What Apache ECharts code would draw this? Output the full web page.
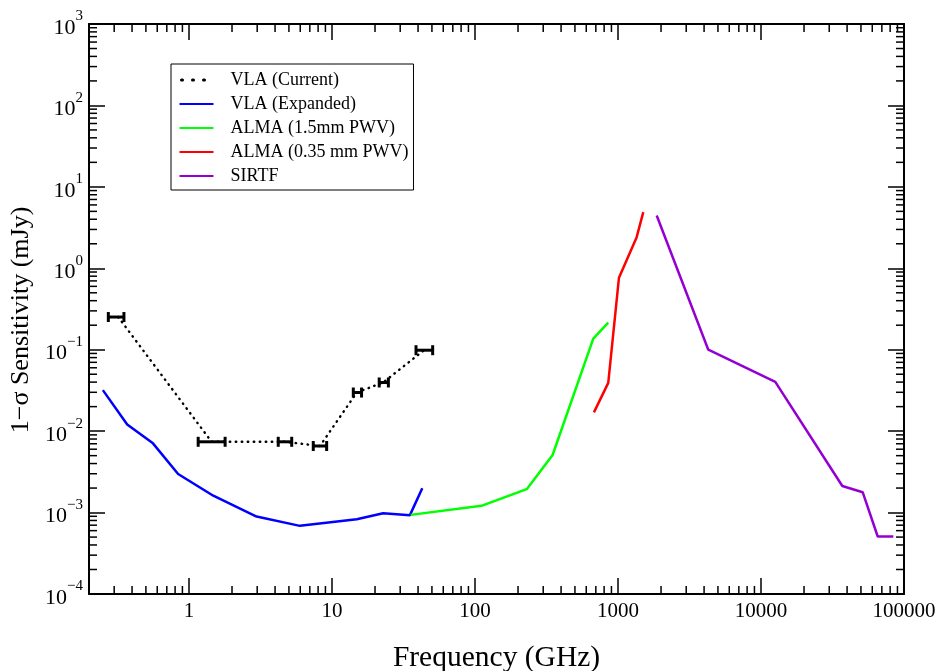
<!DOCTYPE html>
<html>
<head>
<meta charset="utf-8">
<script src="https://cdn.jsdelivr.net/npm/echarts@6/dist/echarts.min.js"></script>
<style>html,body{margin:0;padding:0;background:#fff}#c{width:941px;height:671px}</style>
</head>
<body>
<div id="c"></div>
<script>
// ---- data ----
const xMin = 0.2, xMax = 100000, yMin = 1e-4, yMax = 1e3;

const vlaCurFreq = [0.32, 1.44, 4.69, 8.24, 14.9, 22.8, 44];
const vlaCurLow  = [0.273, 1.16, 4.21, 7.4, 14.1, 21.4, 38.7];
const vlaCurHigh = [0.351, 1.79, 5.23, 9.18, 16.1, 24.8, 50.6];
const vlaCurSens = [0.252, 0.0074, 0.0074, 0.00657, 0.0298, 0.0396, 0.0986];

const vlaExpFreq = [0.25, 0.37, 0.56, 0.84, 1.48, 2.97, 5.97, 14.9, 22.8, 35.1, 42.8];
const vlaExpSens = [0.0319, 0.0121, 0.00708, 0.00298, 0.00161, 0.000893, 0.000687, 0.00083, 0.000983, 0.00093, 0.00199];

const almaLowFreq = [35.5, 111, 230, 349, 672, 855];
const almaLowSens = [0.000937, 0.00121, 0.00194, 0.00509, 0.137, 0.215];

const almaHighFreq = [679, 855, 1016, 1351, 1503];
const almaHighSens = [0.0170, 0.0392, 0.767, 2.41, 4.89];

const sirtfFreq = [1865, 4280, 12590, 37050, 51400, 65500, 84200];
const sirtfSens = [4.45, 0.100, 0.0402, 0.00212, 0.00178, 0.000508, 0.000508];

const seriesNames = ['VLA (Current)', 'VLA (Expanded)', 'ALMA (1.5mm PWV)', 'ALMA (0.35 mm PWV)', 'SIRTF'];
const xTitle = 'Frequency (GHz)';
const yTitle = '1\u2212\u03c3 Sensitivity (mJy)';

// minor tick values (2..9 x 10^k)
const xMinor = [], yMinor = [];
for (let k = -1; k <= 4; k++) for (let m = 2; m <= 9; m++) { const v = m * Math.pow(10, k); if (v > xMin && v < xMax) xMinor.push(v); }
for (let k = -4; k <= 2; k++) for (let m = 2; m <= 9; m++) { yMinor.push(m * Math.pow(10, k)); }

const FONT = 'Liberation Serif';
const zip = (a, b) => a.map((v, i) => [v, b[i]]);

const axisCommon = {
  type: 'log', logBase: 10,
  axisLine: { show: true, onZero: false, lineStyle: { color: '#000', width: 2 } },
  axisTick: { show: true, inside: true, length: 16, lineStyle: { color: '#000', width: 1.5 } },
  splitLine: { show: false },
  minorTick: { show: false }
};

function expLabel(v) {
  const e = Math.round(Math.log10(v));
  const s = e < 0 ? '\u2212' + (-e) : '' + e;
  return '{b|10}{s|' + s + '}';
}

const legendData = seriesNames.map((n, i) => i === 0
  ? { name: n, lineStyle: { type: [1, 10], width: 3, cap: 'round', dashOffset: -2 } }
  : { name: n });

const option = {
  animation: false,
  backgroundColor: '#fff',
  grid: { left: 89, right: 37, top: 24, bottom: 77, outerBoundsMode: 'none', containLabel: false },
  legend: {
    data: legendData,
    orient: 'vertical',
    left: 171, top: 64,
    itemWidth: 34, itemHeight: 14, itemGap: 6,
    padding: [7, 5, 5, 7],
    borderColor: '#000', borderWidth: 1,
    backgroundColor: '#fff',
    itemStyle: { opacity: 0, color: 'transparent', borderWidth: 0 },
    textStyle: { fontFamily: FONT, fontSize: 18, color: '#000', padding: [0, 0, 0, 12] }
  },
  xAxis: [
    Object.assign({}, axisCommon, {
      position: 'bottom', min: xMin, max: xMax, splitNumber: 6,
      name: xTitle, nameLocation: 'middle', nameGap: 49,
      nameTextStyle: { fontFamily: FONT, fontSize: 29.5, color: '#000' },
      axisLabel: {
        margin: 7, fontFamily: FONT, fontSize: 21, color: '#000',
        formatter: v => (v < 0.9 ? '' : String(Math.round(v)))
      }
    }),
    Object.assign({}, axisCommon, {
      position: 'top', min: xMin, max: xMax, splitNumber: 6,
      axisLabel: { show: false }
    })
  ],
  yAxis: [
    Object.assign({}, axisCommon, {
      position: 'left', min: yMin, max: yMax, splitNumber: 7,
      name: yTitle, nameLocation: 'middle', nameGap: 51,
      nameTextStyle: { fontFamily: FONT, fontSize: 26, color: '#000', padding: [0, 22, 0, 0] },
      axisLabel: {
        margin: 6, fontFamily: FONT, color: '#000',
        formatter: expLabel,
        rich: {
          b: { fontFamily: FONT, fontSize: 22, color: '#000', lineHeight: 30, verticalAlign: 'bottom' },
          s: { fontFamily: FONT, fontSize: 15, color: '#000', lineHeight: 30, verticalAlign: 'top' }
        }
      }
    }),
    Object.assign({}, axisCommon, {
      position: 'right', min: yMin, max: yMax, splitNumber: 7,
      axisLabel: { show: false }
    })
  ],
  series: [
    {
      name: 'VLA (Current)', type: 'line', data: zip(vlaCurFreq, vlaCurSens),
      showSymbol: false, symbol: 'none', z: 3,
      lineStyle: { color: '#000', width: 2.4, type: [0.5, 5.5], cap: 'round' },
      itemStyle: { color: '#000' }
    },
    {
      name: 'VLA (Current) bars', type: 'custom', z: 4,
      data: vlaCurFreq.map((f, i) => [f, vlaCurSens[i], vlaCurLow[i], vlaCurHigh[i]]),
      encode: { x: 0, y: 1 },
      renderItem: function (params, api) {
        const y = api.value(1);
        const a = api.coord([api.value(2), y]);
        const b = api.coord([api.value(3), y]);
        const h = 5;
        const st = { stroke: '#000', lineWidth: 3 };
        return {
          type: 'group',
          children: [
            { type: 'line', shape: { x1: a[0], y1: a[1], x2: b[0], y2: b[1] }, style: st },
            { type: 'line', shape: { x1: a[0], y1: a[1] - h, x2: a[0], y2: a[1] + h }, style: st },
            { type: 'line', shape: { x1: b[0], y1: b[1] - h, x2: b[0], y2: b[1] + h }, style: st }
          ]
        };
      }
    },
    {
      name: 'VLA (Expanded)', type: 'line', data: zip(vlaExpFreq, vlaExpSens),
      showSymbol: false, symbol: 'none', z: 3,
      lineStyle: { color: '#0000ff', width: 2.5 }, itemStyle: { color: '#0000ff' }
    },
    {
      name: 'ALMA (1.5mm PWV)', type: 'line', data: zip(almaLowFreq, almaLowSens),
      showSymbol: false, symbol: 'none', z: 3,
      lineStyle: { color: '#00ff00', width: 2.5 }, itemStyle: { color: '#00ff00' }
    },
    {
      name: 'ALMA (0.35 mm PWV)', type: 'line', data: zip(almaHighFreq, almaHighSens),
      showSymbol: false, symbol: 'none', z: 3,
      lineStyle: { color: '#ff0000', width: 2.5 }, itemStyle: { color: '#ff0000' }
    },
    {
      name: 'SIRTF', type: 'line', data: zip(sirtfFreq, sirtfSens),
      showSymbol: false, symbol: 'none', z: 3,
      lineStyle: { color: '#9400d3', width: 2.5 }, itemStyle: { color: '#9400d3' }
    },
    {
      name: 'xMinor', type: 'custom', silent: true, z: 5, clip: false,
      data: xMinor.map(v => [v, yMin]),
      encode: { x: 0, y: 1 },
      renderItem: function (params, api) {
        const v = api.value(0);
        const p0 = api.coord([v, yMin]);
        const p1 = api.coord([v, yMax]);
        const st = { stroke: '#000', lineWidth: 1.5 };
        return { type: 'group', children: [
          { type: 'line', shape: { x1: p0[0], y1: p0[1], x2: p0[0], y2: p0[1] - 8 }, style: st },
          { type: 'line', shape: { x1: p1[0], y1: p1[1], x2: p1[0], y2: p1[1] + 8 }, style: st }
        ] };
      }
    },
    {
      name: 'yMinor', type: 'custom', silent: true, z: 5, clip: false,
      data: yMinor.map(v => [xMin, v]),
      encode: { x: 0, y: 1 },
      renderItem: function (params, api) {
        const v = api.value(1);
        const p0 = api.coord([xMin, v]);
        const p1 = api.coord([xMax, v]);
        const st = { stroke: '#000', lineWidth: 1.5 };
        return { type: 'group', children: [
          { type: 'line', shape: { x1: p0[0], y1: p0[1], x2: p0[0] + 8, y2: p0[1] }, style: st },
          { type: 'line', shape: { x1: p1[0], y1: p1[1], x2: p1[0] - 8, y2: p1[1] }, style: st }
        ] };
      }
    }
  ]
};

const chart = echarts.init(document.getElementById('c'), null, { renderer: 'canvas' });
chart.setOption(option);
</script>
</body>
</html>
